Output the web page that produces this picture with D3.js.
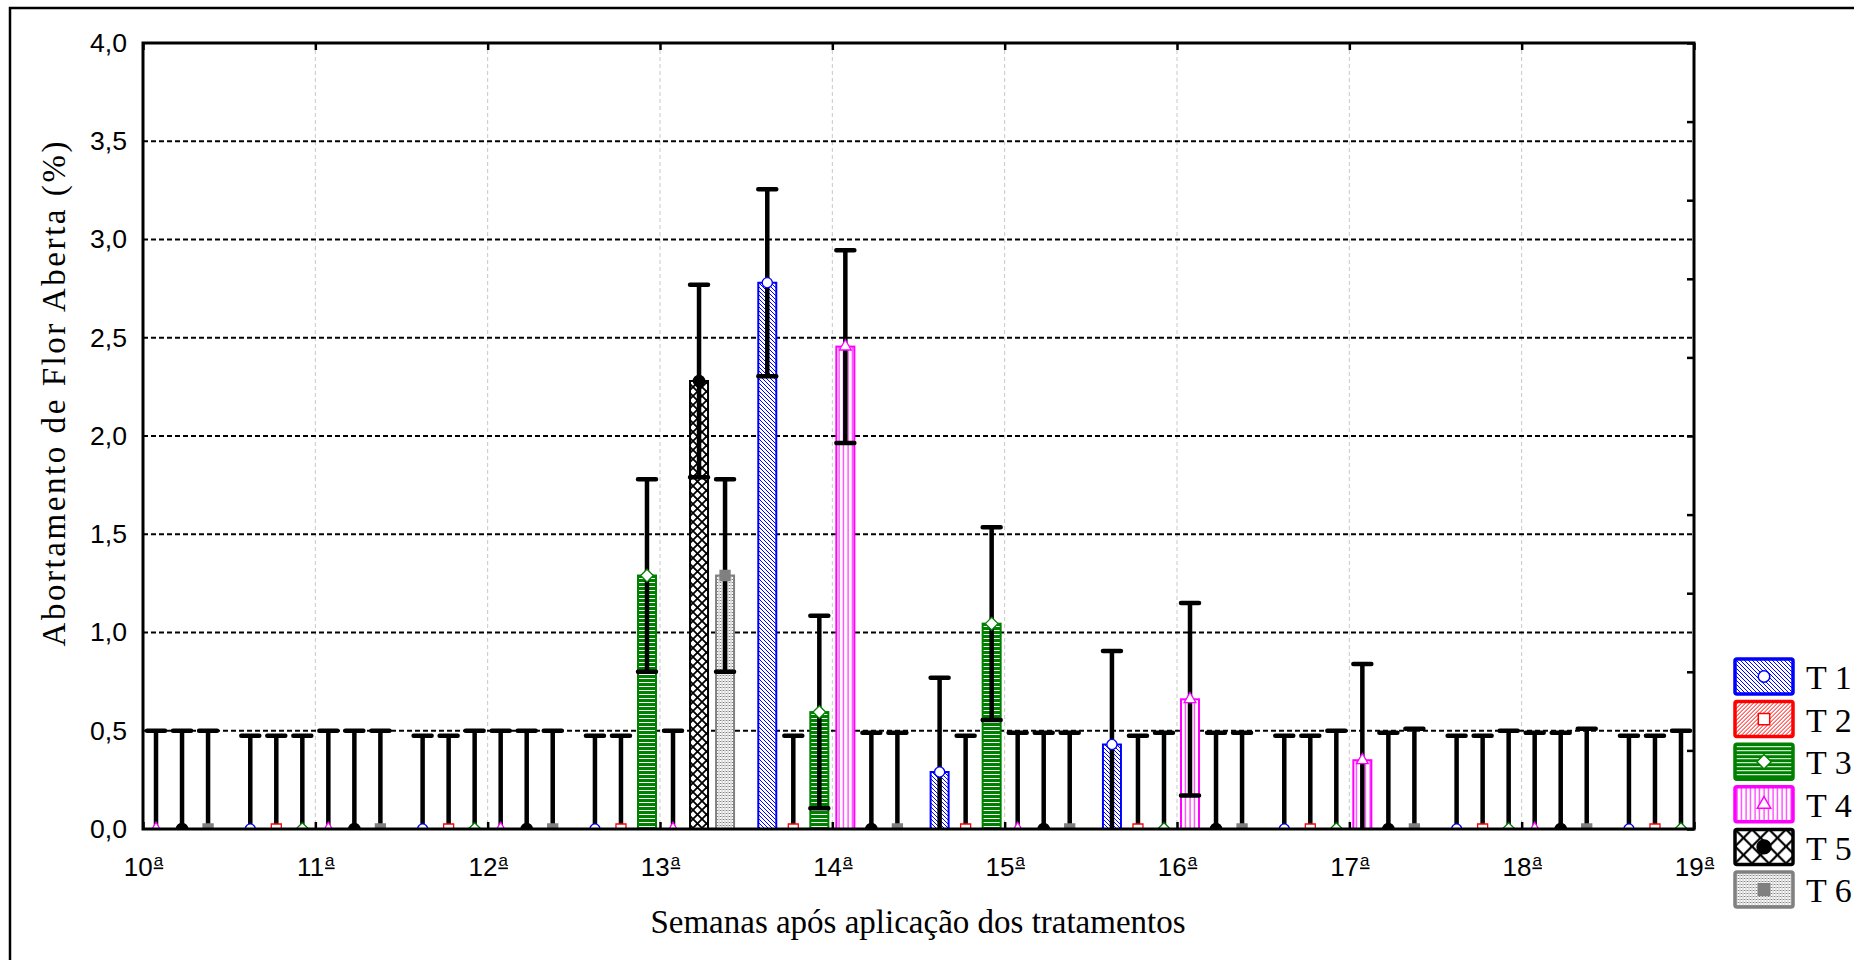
<!DOCTYPE html>
<html>
<head>
<meta charset="utf-8">
<script src="https://cdn.jsdelivr.net/npm/d3@7"></script>
<style>
	body { margin: 0; background: #fff; }
	svg { display: block; }
</style>
</head>
<body>
<div id="chart"></div>
<script>
// semanas e rótulos do eixo x
const weeks = [10, 11, 12, 13, 14, 15, 16, 17, 18, 19]
const weekLabels = ['10ª', '11ª', '12ª', '13ª', '14ª', '15ª', '16ª', '17ª', '18ª', '19ª']
const yTicks = [0, 0.5, 1, 1.5, 2, 2.5, 3, 3.5, 4]
const treatments = ['T 1', 'T 2', 'T 3', 'T 4', 'T 5', 'T 6']

// médias e erros
const t1Mean = [0, 0, 0, 0, 2.78, 0.29, 0.43, 0, 0, 0]
const t1Err = [0.475, 0.475, 0.475, 0.475, 0.476, 0.48, 0.476, 0.475, 0.475, 0.475]
const t2Mean = [0, 0, 0, 0, 0, 0, 0, 0, 0, 0]
const t2Err = [0.475, 0.475, 0.475, 0.475, 0.475, 0.475, 0.475, 0.475, 0.475, 0.475]
const t3Mean = [0, 0, 0, 1.29, 0.595, 1.045, 0, 0, 0, 0]
const t3Err = [0.5, 0.475, 0.5, 0.49, 0.49, 0.49, 0.49, 0.5, 0.5, 0.5]
const t4Mean = [0, 0, 0, 0, 2.455, 0, 0.66, 0.35, 0, 0]
const t4Err = [0.5, 0.5, 0.5, 0.5, 0.49, 0.49, 0.49, 0.49, 0.49, 0.49]
const t5Mean = [0, 0, 0, 2.28, 0, 0, 0, 0, 0, 0]
const t5Err = [0.5, 0.5, 0.5, 0.49, 0.49, 0.49, 0.49, 0.49, 0.49, 0.49]
const t6Mean = [0, 0, 0, 1.29, 0, 0, 0, 0, 0, 0]
const t6Err = [0.5, 0.5, 0.5, 0.49, 0.49, 0.49, 0.49, 0.51, 0.51, 0.51]

const symbolRhomb = {
	draw(context, size) {
		const r = Math.sqrt(size / 2)
		context.moveTo(0, -r)
		context.lineTo(r, 0)
		context.lineTo(0, r)
		context.lineTo(-r, 0)
		context.closePath()
	}
}

class Chart {
	constructor() {
		this.width = 1854
		this.height = 960
		this.plot = { left: 143, right: 1694, top: 43, bottom: 829 }
		this.groupStep = 0.151
		this.barWidth = 18

		this.series = [
			{ name: treatments[0], mean: t1Mean, err: t1Err, color: '#0000ff', symbol: d3.symbolCircle, size: 80, fill: '#fff' },
			{ name: treatments[1], mean: t2Mean, err: t2Err, color: '#ff0000', symbol: d3.symbolSquare, size: 100, fill: '#fff' },
			{ name: treatments[2], mean: t3Mean, err: t3Err, color: '#008000', symbol: symbolRhomb, size: 80, fill: '#fff' },
			{ name: treatments[3], mean: t4Mean, err: t4Err, color: '#ff00ff', symbol: d3.symbolTriangle, size: 60, fill: '#fff' },
			{ name: treatments[4], mean: t5Mean, err: t5Err, color: '#000000', symbol: d3.symbolCircle, size: 100, fill: '#000' },
			{ name: treatments[5], mean: t6Mean, err: t6Err, color: '#808080', symbol: d3.symbolSquare, size: 100, fill: '#808080' },
		]

		this.draw()
	}

	addPatterns(defs) {
		const mk = (id, size) => defs.append('pattern')
			.attr('id', id)
			.attr('patternUnits', 'userSpaceOnUse')
			.attr('width', size)
			.attr('height', size)

		// T1 diagonal azul
		let p = mk('p0', 4)
		p.append('rect').attr('width', 4).attr('height', 4).attr('fill', '#fff')
		p.append('path').attr('d', 'M-1,-1L5,5M3,-1L5,1M-1,3L1,5').attr('stroke', '#0000ff').attr('stroke-width', 1)

		// T2 diagonal vermelha
		p = mk('p1', 4)
		p.append('rect').attr('width', 4).attr('height', 4).attr('fill', '#fff')
		p.append('path').attr('d', 'M-1,5L5,-1M-1,1L1,-1M3,5L5,3').attr('stroke', '#ff0000').attr('stroke-width', 1)

		// T3 verde com linhas brancas
		p = mk('p2', 4)
		p.append('rect').attr('width', 4).attr('height', 4).attr('fill', '#008000')
		p.append('line').attr('x1', 0).attr('x2', 4).attr('y1', 2.5).attr('y2', 2.5).attr('stroke', '#fff').attr('stroke-width', 1)

		// T4 linhas verticais magenta
		p = mk('p3', 4.5)
		p.append('rect').attr('width', 4.5).attr('height', 4.5).attr('fill', '#fff')
		p.append('line').attr('x1', 2).attr('x2', 2).attr('y1', 0).attr('y2', 4.5).attr('stroke', '#ff00ff').attr('stroke-width', 1)

		// T5 xadrez cruzado
		const cross = (id, s, w) => {
			const q = mk(id, s)
			q.append('rect').attr('width', s).attr('height', s).attr('fill', '#fff')
			q.append('path').attr('d', `M0,0L${s},${s}M${s},0L0,${s}`).attr('stroke', '#000').attr('stroke-width', w)
		}
		cross('p4', 9, 1.8)
		cross('p4l', 17, 2.2)

		// T6 pontilhado cinza
		p = mk('p5', 3)
		p.append('rect').attr('width', 3).attr('height', 3).attr('fill', '#fff')
		p.append('rect').attr('width', 1).attr('height', 1).attr('fill', '#808080')
		p.append('rect').attr('x', 1.5).attr('y', 1.5).attr('width', 1).attr('height', 1).attr('fill', '#808080')
		p.append('rect').attr('x', 1.5).attr('width', 1).attr('height', 1).attr('fill', '#a0a0a0')
	}

	draw() {
		const { left, right, top, bottom } = this.plot

		const svg = d3.select('#chart')
			.append('svg')
			.attr('width', this.width)
			.attr('height', this.height)

		const defs = svg.append('defs')
		this.addPatterns(defs)

		defs.append('clipPath')
			.attr('id', 'plotClip')
			.append('rect')
			.attr('x', left)
			.attr('y', top)
			.attr('width', right - left)
			.attr('height', bottom - top)

		// moldura externa
		svg.append('rect')
			.attr('x', 10)
			.attr('y', 8)
			.attr('width', 2000)
			.attr('height', 1000)
			.attr('fill', 'none')
			.attr('stroke', '#000')
			.attr('stroke-width', 2.5)

		const x = d3.scaleLinear().domain([weeks[0], weeks[weeks.length - 1]]).range([left, right])
		const y = d3.scaleLinear().domain([0, 4]).range([bottom, top])
		const yRight = d3.scaleLinear().domain([0, 10]).range([bottom, top])

		const locale = d3.formatLocale({ decimal: ',', thousands: '.', grouping: [3], currency: ['', ''] })
		const fmt = locale.format('.1f')

		// grade vertical
		svg.append('g')
			.selectAll('line')
			.data(weeks.slice(1, -1))
			.join('line')
			.attr('x1', d => x(d))
			.attr('x2', d => x(d))
			.attr('y1', top)
			.attr('y2', bottom)
			.attr('stroke', '#c8c8c8')
			.attr('stroke-width', 1)
			.attr('stroke-dasharray', '4 3')

		// grade horizontal
		svg.append('g')
			.selectAll('line')
			.data(yTicks.slice(1, -1))
			.join('line')
			.attr('x1', left)
			.attr('x2', right)
			.attr('y1', d => y(d))
			.attr('y2', d => y(d))
			.attr('stroke', '#000')
			.attr('stroke-width', 2)
			.attr('stroke-dasharray', '5 3')

		const plotG = svg.append('g').attr('clip-path', 'url(#plotClip)')

		const points = this.series.flatMap((s, si) => weeks.map((w, wi) => ({
			si,
			s,
			cx: x(w + (si - 2.5) * this.groupStep),
			mean: s.mean[wi],
			err: s.err[wi],
		})))

		// barras
		plotG.append('g')
			.selectAll('rect')
			.data(points.filter(d => d.mean > 0))
			.join('rect')
			.attr('x', d => d.cx - this.barWidth / 2)
			.attr('y', d => y(d.mean))
			.attr('width', this.barWidth)
			.attr('height', d => y(0) - y(d.mean))
			.attr('fill', d => `url(#p${d.si})`)
			.attr('stroke', d => d.s.color)
			.attr('stroke-width', 2)

		// barras de erro
		const errG = plotG.append('g')
			.attr('stroke', '#000')
			.attr('stroke-width', 4.5)
			.attr('stroke-linecap', 'round')
			.attr('fill', 'none')

		errG.selectAll('path')
			.data(points)
			.join('path')
			.attr('d', d => {
				const y0 = y(d.mean - d.err)
				const y1 = y(d.mean + d.err)
				return `M${d.cx},${y0}V${y1}M${d.cx - 9},${y1}H${d.cx + 9}M${d.cx - 9},${y0}H${d.cx + 9}`
			})

		// marcadores
		plotG.append('g')
			.selectAll('path')
			.data(points)
			.join('path')
			.attr('transform', d => `translate(${d.cx},${y(d.mean)})`)
			.attr('d', d => d3.symbol(d.s.symbol, d.s.size)())
			.attr('fill', d => d.s.fill)
			.attr('stroke', d => d.s.color)
			.attr('stroke-width', 1.3)

		// eixos
		const bottomAxis = svg.append('g')
			.attr('transform', `translate(0,${bottom})`)
			.call(d3.axisBottom(x).tickValues(weeks).tickFormat((d, i) => weekLabels[i]).tickSize(-7).tickPadding(29))

		const topAxis = svg.append('g')
			.attr('transform', `translate(0,${top})`)
			.call(d3.axisTop(x).tickValues(weeks).tickFormat('').tickSize(-7))

		const rightAxis = svg.append('g')
			.attr('transform', `translate(${right},0)`)
			.call(d3.axisRight(yRight).ticks(10).tickFormat('').tickSize(-7))

		const leftAxis = svg.append('g')
			.attr('transform', `translate(${left},0)`)
			.call(d3.axisLeft(y).tickValues(yTicks).tickFormat(fmt).tickSize(0).tickPadding(16))

		for (const a of [bottomAxis, topAxis, rightAxis, leftAxis]) {
			a.select('.domain').remove()
			a.selectAll('.tick line').attr('stroke', '#000').attr('stroke-width', 2.5)
			a.selectAll('text')
				.attr('fill', '#000')
				.style('font-family', '"Liberation Sans", Arial, sans-serif')
				.style('font-size', '26px')
		}

		leftAxis.selectAll('.tick text')
			.attr('textLength', 37)
			.attr('lengthAdjust', 'spacingAndGlyphs')

		// "10ª": número + "a" sobrescrito sublinhado
		bottomAxis.selectAll('.tick text').each(function () {
			const t = d3.select(this)
			const label = t.text()
			t.text('')
			t.append('tspan').text(label.slice(0, -1))
			t.append('tspan')
				.attr('dy', -10)
				.attr('dx', 1)
				.style('font-size', '17px')
				.style('text-decoration', 'underline')
				.text('a')
		})

		svg.append('rect')
			.attr('x', left)
			.attr('y', top)
			.attr('width', right - left)
			.attr('height', bottom - top)
			.attr('fill', 'none')
			.attr('stroke', '#000')
			.attr('stroke-width', 3)

		// títulos
		svg.append('text')
			.attr('x', 918)
			.attr('y', 933)
			.attr('text-anchor', 'middle')
			.style('font-family', '"Liberation Serif", "Times New Roman", serif')
			.style('font-size', '33px')
			.text('Semanas após aplicação dos tratamentos')

		svg.append('text')
			.attr('transform', 'translate(65,394) rotate(-90)')
			.attr('text-anchor', 'middle')
			.attr('textLength', 505)
			.attr('lengthAdjust', 'spacing')
			.style('font-family', '"Liberation Serif", "Times New Roman", serif')
			.style('font-size', '33px')
			.text('Abortamento de Flor Aberta (%)')

		// legenda
		const legend = svg.append('g')
			.selectAll('g')
			.data(this.series)
			.join('g')
			.attr('transform', (d, i) => `translate(1735,${659 + i * 42.6})`)

		legend.append('rect')
			.attr('width', 58)
			.attr('height', 35)
			.attr('rx', 2)
			.attr('fill', (d, i) => i === 4 ? 'url(#p4l)' : `url(#p${i})`)
			.attr('stroke', d => d.color)
			.attr('stroke-width', 3.5)

		legend.append('path')
			.attr('transform', 'translate(29,17.5)')
			.attr('d', (d, i) => d3.symbol(d.symbol, i === 4 ? 150 : d.size * 1.3)())
			.attr('fill', d => d.fill)
			.attr('stroke', d => d.color)
			.attr('stroke-width', 1.5)

		legend.append('text')
			.attr('x', 71)
			.attr('y', 30.3)
			.style('font-family', '"Liberation Serif", "Times New Roman", serif')
			.style('font-size', '34px')
			.text(d => d.name)
	}
}

document.addEventListener('DOMContentLoaded', () => {
	const chart = new Chart()
	window.chart = chart
})
</script>
</body>
</html>
